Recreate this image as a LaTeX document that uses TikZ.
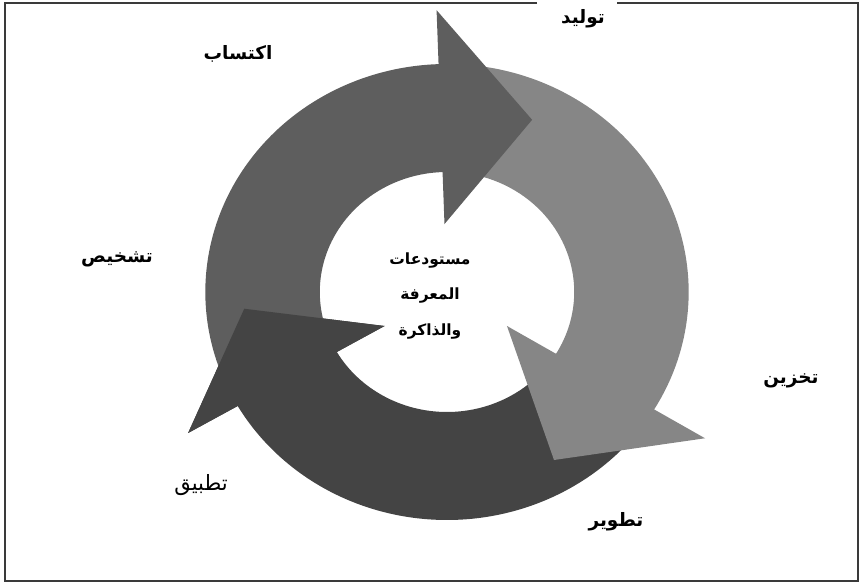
\documentclass[tikz,border=0pt]{standalone}
\usepackage{fontspec}
\newfontfamily\arabicfont[Script=Arabic]{DejaVu Sans}
\TeXXeTstate=1
\definecolor{acqgray}{HTML}{5E5E5E}
\definecolor{gengray}{HTML}{868686}
\definecolor{appgray}{HTML}{444444}
\definecolor{framegray}{HTML}{3A3A3A}

\begin{document}
\begin{tikzpicture}[
    x=0.02cm, y=0.02cm,
    stage/.style={
        font=\arabicfont\bfseries\fontsize{10.5}{12}\selectfont,
        inner sep=1pt
    },
    hub/.style={
        font=\arabicfont\bfseries\fontsize{8.8}{20}\selectfont,
        align=center,
        inner sep=1pt
    },
    frame/.style={
        draw=framegray,
        line width=0.8pt
    }
]
\useasboundingbox (0,0) rectangle (863,585);

% Stage labels
\node[stage] (gen) at (583,566) {\beginR توليد\endR};
\node[stage] (acq) at (238,531) {\beginR اكتساب\endR};
\node[stage] (diag) at (117,326) {\beginR تشخيص\endR};
\node[stage] (store) at (791,204) {\beginR تخزين\endR};
\node[stage, font=\arabicfont\fontsize{12}{14}\selectfont] (apply) at (201,100) {\beginR تطبيق\endR};
\node[stage] (dev) at (616,63) {\beginR تطوير\endR};

% Frame, open round the top label
\draw[frame] (537,582) -- (5,582) -- (5,4) -- (858,4) -- (858,582) -- (617,582);

% Cycle arrows
\begin{scope}[shift={(447,293)}, xscale=1.06]
    % bottom arrow
    \fill[appgray] (-40:228) arc[start angle=-40, end angle=-150, radius=228]
        -- (-150:282) -- (185:192) -- (-150:68) -- (-150:120)
        arc[start angle=-150, end angle=-40, radius=120] -- cycle;
    % right arrow
    \fill[gengray] (84:228) arc[start angle=84, end angle=-31, radius=228]
        -- (-31:284) -- (-59:196) -- (-31:66) -- (-31:120)
        arc[start angle=-31, end angle=84, radius=120] -- cycle;
    % top arrow
    \fill[acqgray] (203:228) arc[start angle=203, end angle=92, radius=228]
        -- (92:282) -- (65:190) -- (92:68) -- (92:120)
        arc[start angle=92, end angle=203, radius=120] -- cycle;
    % head of the bottom arrow over the tail of the top one
    \fill[appgray] (210:282) -- (185:192) -- (210:68) -- cycle;
\end{scope}

% Centre text
\node[hub] (hub) at (430,289) {\beginR مستودعات\endR\\ \beginR المعرفة\endR\\ \beginR والذاكرة\endR};

\end{tikzpicture}
\end{document}
